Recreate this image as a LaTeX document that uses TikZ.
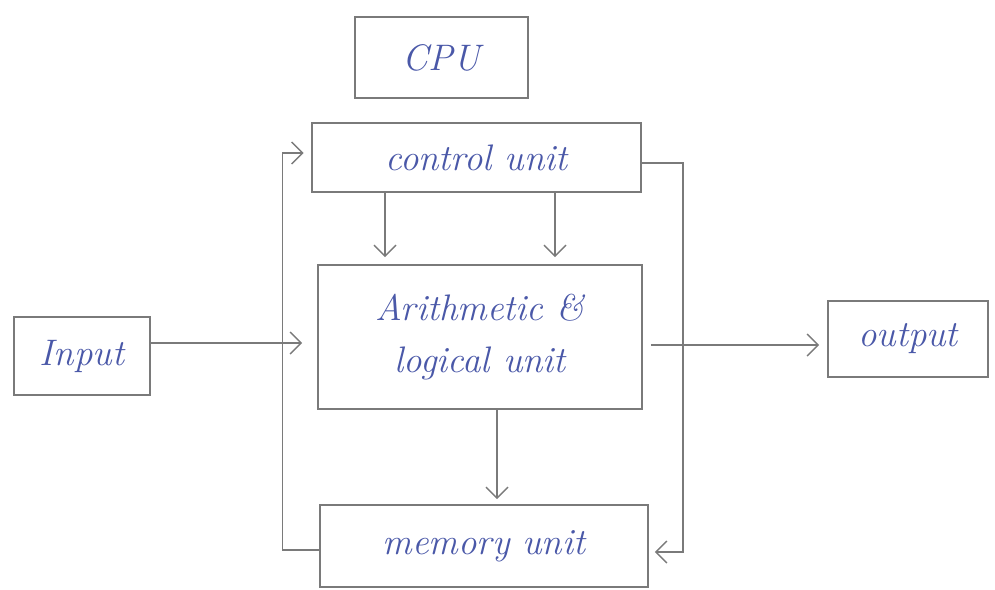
\documentclass[tikz,border=0pt]{standalone}
\usepackage{xcolor}
\usetikzlibrary{positioning,calc,arrows.meta}
\definecolor{pencil}{HTML}{7A7A7A}
\definecolor{ink}{HTML}{4A58A8}

\begin{document}
\begin{tikzpicture}[
    unit/.style={draw=pencil, line width=0.9pt, align=center, text=ink, font=\fontsize{21}{30}\selectfont\itshape, inner sep=0pt},
    conn/.style={draw=pencil, line width=0.8pt, -{Straight Barb[length=2.2mm,width=4.4mm]}}
]
\useasboundingbox (0,0) rectangle (19.9,-11.78);
% Blocks
\node[unit, minimum width=3.46cm, minimum height=1.62cm] (cpu) at (8.83,-1.15) {CPU};
\node[unit, minimum width=6.58cm, minimum height=1.38cm] (ctrl) at (9.53,-3.15) {control unit};
\node[unit, minimum width=6.48cm, minimum height=2.88cm] (alu) at (9.6,-6.74) {Arithmetic \&\\ logical unit};
\node[unit, minimum width=6.56cm, minimum height=1.64cm] (mem) at (9.68,-10.92) {memory unit};
\node[unit, minimum width=2.72cm, minimum height=1.56cm] (inp) at (1.64,-7.12) {Input};
\node[unit, minimum width=3.2cm, minimum height=1.52cm] (out) at (18.16,-6.78) {output};
% Data paths
\draw[conn, shorten >=3mm] ([yshift=2.6mm]inp.east) -- ([yshift=2.6mm]inp.east -| alu.west);
\draw[conn, shorten >=1.6mm] ([xshift=1.6mm,yshift=-1.6mm]alu.east) -- ([yshift=-1.6mm]alu.east -| out.west);
\foreach \dx in {-1.83, 1.57} {
    \draw[conn, shorten >=1.4mm] ([xshift=\dx cm]ctrl.south) -- ([xshift=\dx cm]ctrl.south |- alu.north);
}
\draw[conn, shorten >=1mm] ([xshift=3.4mm]alu.south) -- ([xshift=3.4mm]alu.south |- mem.north);
% Feedback lines
\draw[conn, shorten >=1.5mm] ([yshift=-0.8mm]mem.west) -- ++(-0.74,0) |- ([yshift=0.9mm]ctrl.west);
\draw[conn, shorten >=1.2mm] ([yshift=-1.1mm]ctrl.east) -- ++(0.82,0) |- ([yshift=-1.2mm]mem.east);
\end{tikzpicture}
\end{document}
